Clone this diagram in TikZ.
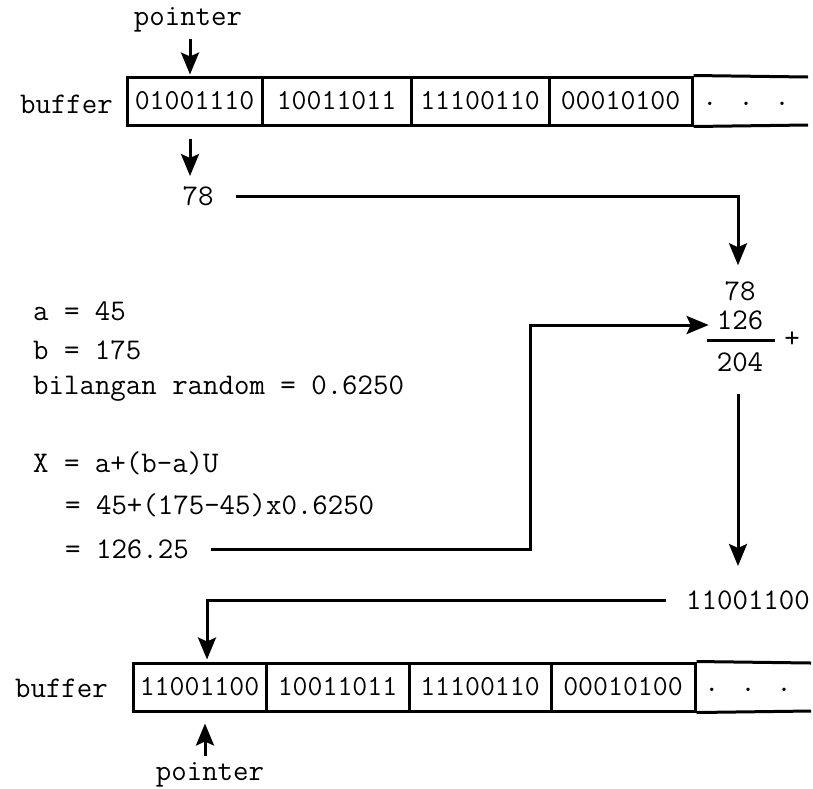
\documentclass[tikz,border=0pt]{standalone}
\usepackage{fontspec}
\usetikzlibrary{arrows.meta}

\begin{document}
\begin{tikzpicture}[x=1pt, y=-1pt,
  txt/.style={font=\ttfamily\fontsize{30}{34}\selectfont, inner sep=0pt},
  cell/.style={draw, line width=3pt, minimum height=48pt, inner sep=0pt, font=\ttfamily\fontsize{29}{34}\selectfont},
  arr/.style={-{Stealth[length=22pt,width=18pt,inset=4pt]}, line width=3pt},
  link/.style={line width=3pt}]
\useasboundingbox (0,0) rectangle (813,788);

% buffer awal
\node[txt] (ptr1) at (188,20) {pointer};
\node[txt, anchor=east] (buf1) at (113,104) {buffer};
\node[cell, minimum width=135pt] (t1) at (194.5,101) {01001110};
\node[cell, minimum width=149pt] (t2) at (336.5,101) {10011011};
\node[cell, minimum width=138pt] (t3) at (480,101) {11100110};
\node[cell, minimum width=143pt] (t4) at (620.5,101) {00010100};
\node[txt] (t5) at (746,104) {. . .};
\coordinate (t5a) at (808,77);
\coordinate (t5b) at (808,125);
\draw[link] (t4.north east) -- (t5a);
\draw[link] (t4.south east) -- (t5b);

\node[txt] (v78) at (198,196) {78};
\draw[arr] (ptr1.south -| 190,0) ++(0,6) -- ([yshift=1pt]t1.north -| 190,0);
\draw[arr] ([yshift=-12pt]t1.south -| 190,0) -- (190,176);

% penjumlahan
\node[txt] (s78) at (740,291) {78};
\node[txt] (s126) at (740,320) {126};
\node[txt] (s204) at (740,362) {204};
\node[txt] (plus) at (792,340) {+};
\coordinate (garisa) at (707,340);
\coordinate (garisb) at (775,340);
\draw[link] (garisa) -- (garisb);
\draw[arr] ([xshift=22pt]v78.east) -| ([yshift=16pt]s78.north -| 738,0);

% perhitungan X
\node[txt, anchor=west] (ta) at (33,311) {a = 45};
\node[txt, anchor=west] (tb) at (33,350) {b = 175};
\node[txt, anchor=west] (tr) at (33,389) {bilangan random = 0.6250};
\node[txt, anchor=west] (tx) at (33,463) {X = a+(b-a)U};
\node[txt, anchor=west] (tx2) at (65,505) {= 45+(175-45)x0.6250};
\node[txt, anchor=west] (tx3) at (65,549) {= 126.25};
\coordinate (belok) at (530,325);
\draw[arr] ([xshift=22pt]tx3.east) -| (belok) -- ([xshift=-8pt]s126.west |- belok);

% hasil
\node[txt] (hasil) at (748,600) {11001100};
\draw[arr] ([yshift=-22pt]s204.south -| 738,0) -- (738,566);

% buffer akhir
\node[txt, anchor=east] (buf2) at (108,688) {buffer};
\node[cell, minimum width=133pt] (b1) at (199.5,687) {11001100};
\node[cell, minimum width=143pt] (b2) at (337.5,687) {10011011};
\node[cell, minimum width=142pt] (b3) at (480,687) {11100110};
\node[cell, minimum width=144pt] (b4) at (623,687) {00010100};
\node[txt] (b5) at (748,690) {. . .};
\coordinate (b5a) at (811,663);
\coordinate (b5b) at (811,711);
\draw[link] (b4.north east) -- (b5a);
\draw[link] (b4.south east) -- (b5b);
\draw[arr] ([xshift=-20pt]hasil.west) -| ([yshift=2pt]b1.north -| 207,0);

\node[txt] (ptr2) at (210,775) {pointer};
\draw[arr] (ptr2.north -| 205,0) ++(0,-6) -- ([yshift=-11pt]b1.south -| 205,0);
\end{tikzpicture}
\end{document}
